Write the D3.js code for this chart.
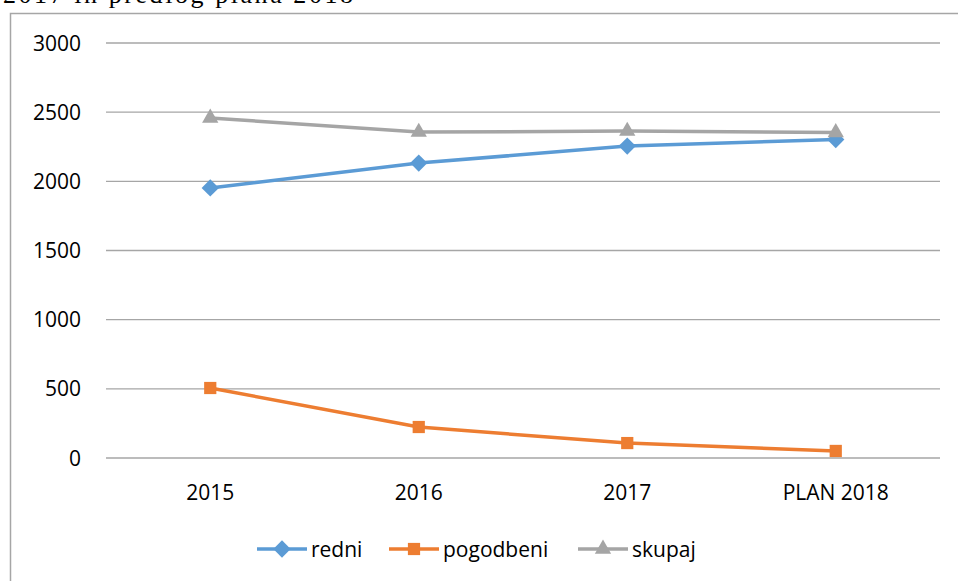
<!DOCTYPE html>
<html>
<head>
<meta charset="utf-8">
<script src="https://cdn.jsdelivr.net/npm/d3@7"></script>
<style>
  body { margin: 0; background: #fff; }
  svg { display: block; }
</style>
</head>
<body>
<svg></svg>
<script>
// podatki
const categories = ["2015", "2016", "2017", "PLAN 2018"];
const redni = [1952, 2132, 2255, 2302];
const pogodbeni = [506, 224, 108, 51];
const skupaj = [2458, 2356, 2363, 2353];
const yTicks = [0, 500, 1000, 1500, 2000, 2500, 3000];

const width = 958;
const height = 581;
let svg = d3.select("svg")
    .attr("width", width)
    .attr("height", height);

const series = [
    { name: "redni", values: redni, color: "#5b9bd5", symbol: d3.symbolDiamond2 },
    { name: "pogodbeni", values: pogodbeni, color: "#ed7d31", symbol: d3.symbolSquare2 },
    { name: "skupaj", values: skupaj, color: "#a5a5a5", symbol: d3.symbolTriangle2 }
];

// naslov (odrezan na vrhu, kot v izvirniku)
svg.append("text")
    .attr("x", 3).attr("y", 3)
    .attr("textLength", 350)
    .style("font-family", "'Liberation Serif', 'DejaVu Serif', serif")
    .style("font-size", "26px")
    .style("fill", "#000")
    .text("2017 in predlog plana 2018");

// okvir grafa
svg.append("rect")
    .attr("x", 10.5).attr("y", 13.5)
    .attr("width", 960).attr("height", 600)
    .style("fill", "none")
    .style("stroke", "#a6a6a6")
    .style("stroke-width", 1.5);

const x = d3.scaleBand().domain(categories).range([106, 940]);
const y = d3.scaleLinear().domain([0, 3000]).range([458, 43]);

// mreža
svg.append("g")
    .selectAll("line")
    .data(yTicks)
    .join("line")
    .attr("x1", 106).attr("x2", 940)
    .attr("y1", d => y(d)).attr("y2", d => y(d))
    .style("stroke", "#a6a6a6")
    .style("stroke-width", 1.3);

const font = "'Open Sans', 'Noto Sans', sans-serif";

// oznake osi y
svg.append("g")
    .selectAll("text")
    .data(yTicks)
    .join("text")
    .attr("x", 81)
    .attr("y", d => y(d))
    .attr("dy", "0.36em")
    .attr("text-anchor", "end")
    .style("font-family", font)
    .style("font-size", "21px")
    .style("fill", "#000")
    .text(d => d);

// oznake osi x
svg.append("g")
    .selectAll("text")
    .data(categories)
    .join("text")
    .attr("x", d => x(d) + x.bandwidth() / 2)
    .attr("y", 492)
    .attr("dy", "0.36em")
    .attr("text-anchor", "middle")
    .style("font-family", font)
    .style("font-size", "21px")
    .style("fill", "#000")
    .text(d => d);

// črte
const line = d3.line()
    .x((d, i) => x(categories[i]) + x.bandwidth() / 2)
    .y(d => y(d));

series.forEach(s => {
    svg.append("path")
        .attr("d", line(s.values))
        .style("fill", "none")
        .style("stroke", s.color)
        .style("stroke-width", 3.5)
        .style("stroke-linejoin", "round");
});

series.forEach(s => {
    svg.append("g")
        .selectAll("path")
        .data(s.values)
        .join("path")
        .attr("d", d3.symbol().type(s.symbol).size(190))
        .attr("transform", (d, i) => `translate(${x(categories[i]) + x.bandwidth() / 2},${y(d)})`)
        .style("fill", s.color);
});

// legenda
const legendX = [257, 389, 578];
let legend = svg.append("g");
series.forEach((s, i) => {
    let g = legend.append("g").attr("transform", `translate(${legendX[i]},549)`);
    g.append("line")
        .attr("x1", 0).attr("x2", 50)
        .style("stroke", s.color)
        .style("stroke-width", 3.5);
    g.append("path")
        .attr("d", d3.symbol().type(s.symbol).size(190))
        .attr("transform", "translate(25,0)")
        .style("fill", s.color);
    g.append("text")
        .attr("x", 54).attr("y", 0)
        .attr("dy", "0.36em")
        .style("font-family", font)
        .style("font-size", "21px")
        .style("fill", "#000")
        .text(s.name);
});
</script>
</body>
</html>
